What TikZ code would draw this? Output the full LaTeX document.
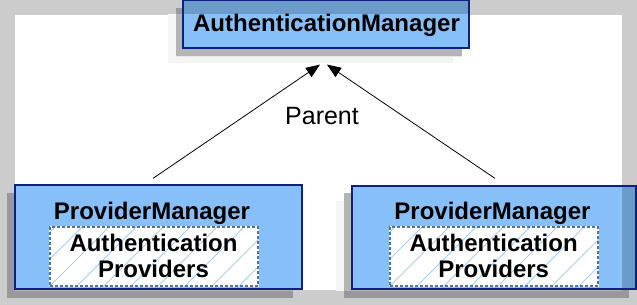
\documentclass[tikz,border=0pt]{standalone}
\usepackage{fontspec}
\setmainfont{Liberation Sans}
\usetikzlibrary{arrows.meta,calc}
\definecolor{bggray}{HTML}{CCCCCC}
\definecolor{halo}{HTML}{F5F5F5}
\definecolor{shadoww}{HTML}{B5B5B5}
\definecolor{shadowg}{HTML}{999999}
\definecolor{bluew}{HTML}{87BFF8}
\definecolor{blueg}{HTML}{6B9BC9}
\definecolor{navy}{HTML}{10207F}
\definecolor{dashblue}{HTML}{4A72A8}
\definecolor{hatchblue}{HTML}{A3CDF5}
\pgfdeclarelayer{back}
\pgfsetlayers{back,main}
\tikzset{
  mgrbox/.style={draw=navy, line width=1.2pt, inner sep=0pt, fill=none},
  provbox/.style={draw=dashblue, line width=1.3pt, dash pattern=on 3pt off 2pt, inner sep=0pt},
  boldlbl/.style={font=\bfseries\fontsize{24}{26}\selectfont, inner sep=0pt, anchor=base},
  plainlbl/.style={font=\fontsize{25}{27}\selectfont, inner sep=0pt, anchor=base},
  conn/.style={draw=black, line width=0.8pt, -{Triangle[length=14pt,width=11pt]}},
  hatchline/.style={draw=hatchblue, line width=0.8pt}
}
\begin{document}
\begin{tikzpicture}[x=1pt,y=-1pt]
\useasboundingbox (0,0) rectangle (637,305);
% boxes (borders)
\node[mgrbox, minimum width=286pt, minimum height=48pt] (am) at (326,24) {};
\node[mgrbox, minimum width=287pt, minimum height=104pt] (pm1) at (158.5,237) {};
\node[mgrbox, minimum width=284pt, minimum height=103pt] (pm2) at (494,237.5) {};
\node[provbox, minimum width=208pt, minimum height=59pt] (ap1) at (154,256.5) {};
\node[provbox, minimum width=208pt, minimum height=59pt] (ap2) at (494,256.5) {};
% background layer
\begin{pgfonlayer}{back}
  \fill[bggray] (0,0) rectangle (637,305);
  \fill[white] (15,15) rectangle (622,290);
  \begin{scope}
    \clip (15,15) rectangle (622,290);
    \fill[halo] (168,0) rectangle (453,63);
    \fill[halo] (336,201) rectangle (621,306);
  \end{scope}
  % shadows on gray
  \fill[shadowg] (176,8) rectangle (462,56);
  \fill[shadowg] (7,193) rectangle (293,298);
  \fill[shadowg] (344,193) rectangle (629,298);
  \begin{scope}
    \clip (15,15) rectangle (622,290);
    \fill[shadoww] (176,8) rectangle (462,56);
    \fill[shadoww] (7,193) rectangle (293,298);
    \fill[shadoww] (344,193) rectangle (629,298);
  \end{scope}
  \draw[halo!80!shadoww, line width=0.8pt] (176,56) -- (462,56);
  % blue fills
  \fill[blueg] (am.north west) rectangle (am.south east);
  \fill[blueg] (pm1.north west) rectangle (pm1.south east);
  \fill[blueg] (pm2.north west) rectangle (pm2.south east);
  \begin{scope}
    \clip (15,15) rectangle (622,290);
    \fill[bluew] (am.north west) rectangle (am.south east);
    \fill[bluew] (pm1.north west) rectangle (pm1.south east);
    \fill[bluew] (pm2.north west) rectangle (pm2.south east);
  \end{scope}
  % inner boxes with hatch
  \fill[white] (ap1.north west) rectangle (ap1.south east);
  \fill[white] (ap2.north west) rectangle (ap2.south east);
  \begin{scope}
    \clip (ap1.north west) rectangle (ap1.south east);
    \foreach \k in {-3,...,8} \draw[hatchline] ($(ap1.south west)+(27*\k,0)$) -- ++(70,-70);
  \end{scope}
  \begin{scope}
    \clip (ap2.north west) rectangle (ap2.south east);
    \foreach \k in {-3,...,8} \draw[hatchline] ($(ap2.south west)+(27*\k,0)$) -- ++(70,-70);
  \end{scope}
\end{pgfonlayer}
% labels
\node[boldlbl] (amt) at (326.5,32) {AuthenticationManager};
\node[boldlbl] (pm1t) at (152,219) {ProviderManager};
\node[boldlbl] (ap1a) at (153.5,251) {Authentication};
\node[boldlbl] (ap1b) at (153.5,277) {Providers};
\node[boldlbl] (pm2t) at (492.5,219) {ProviderManager};
\node[boldlbl] (ap2a) at (493.7,251) {Authentication};
\node[boldlbl] (ap2b) at (493.7,277) {Providers};
\node[plainlbl] (par) at (322,124) {Parent};
% connectors
\coordinate (a1s) at ($(pm1.north)+(-5.5,-6)$);
\coordinate (a2s) at ($(pm2.north)+(1,-7)$);
\coordinate (a1t) at ($(am.south)+(-6,16)$);
\coordinate (a2t) at ($(am.south)+(1,16)$);
\draw[conn] (a1s) -- (a1t);
\draw[conn] (a2s) -- (a2t);
\end{tikzpicture}
\end{document}
